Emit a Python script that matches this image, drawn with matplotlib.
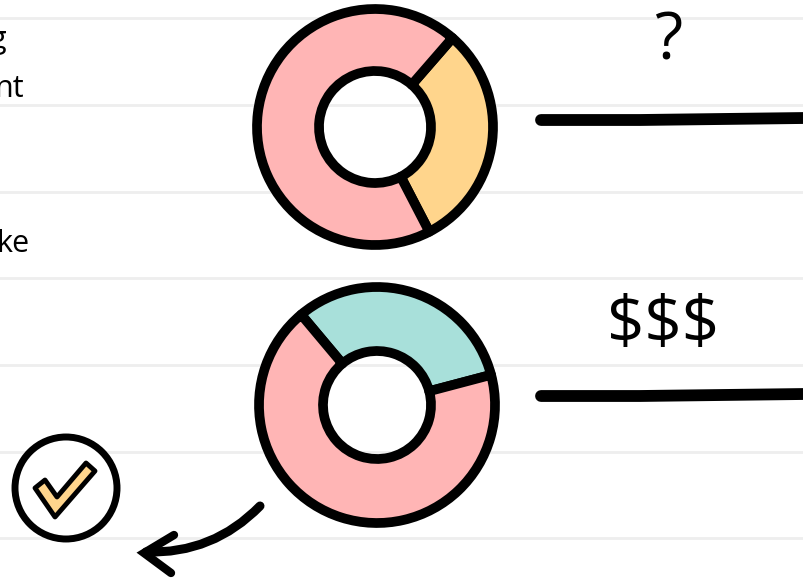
import matplotlib
matplotlib.use("Agg")
import matplotlib.pyplot as plt
from matplotlib.patches import Circle, FancyArrowPatch, Polygon

PINK = "#ffb5b5"
ORANGE = "#ffd58c"
TEAL = "#a8e0da"

# donut shares
top_values = [31, 69]
top_colors = [ORANGE, PINK]
bottom_values = [32, 68]
bottom_colors = [TEAL, PINK]

rule_rows = [18, 105, 192, 278, 365, 452, 538]
left_labels = [("g", 6, 40), ("nt", 24, 89), ("ke", 30, 244)]
right_labels = [("?", 668, 42), ("$$$", 663, 326)]
stroke_rows = [119, 395]

fig = plt.figure(figsize=(8.04, 5.78), dpi=100)
ax = fig.add_axes([0, 0, 1, 1])

for y in rule_rows:
    ax.axhline(y, color="#eeeeee", lw=2, zorder=0)

for text, x, y in left_labels:
    ax.text(x, y, text, ha="right", va="center", fontsize=22, family="Open Sans", color="black")


def donut(values, colors, center, radius, hole, start):
    # y axis is flipped, so the slices run clockwise on screen
    ax.pie(values, colors=colors, center=center, radius=radius, startangle=start,
           counterclock=True, frame=True,
           wedgeprops=dict(width=radius - hole, edgecolor="black", linewidth=7, joinstyle="round"))


donut(top_values, top_colors, (375, 127), 118, 56, -49)
donut(bottom_values, bottom_colors, (377, 405), 118, 54, -130)

ax.set_xlim(0, 804)
ax.set_ylim(578, 0)
ax.set_aspect("equal")
ax.axis("off")

for text, y in zip(right_labels, stroke_rows):
    ax.text(text[1], text[2], text[0], ha="center", va="center", fontsize=47,
            family="Open Sans", color="black")
    ax.plot([541, 640, 804], [y + 1, y + 1, y - 1], color="black", lw=8.5, solid_capstyle="round")

# check badge
ax.add_patch(Circle((66, 488), 51, facecolor="white", edgecolor="black", lw=5))
check = [(35, 488), (45, 480), (57, 497), (86, 463), (95, 471), (55, 517)]
ax.add_patch(Polygon(check, closed=True, facecolor=ORANGE, edgecolor="black", lw=3.5, joinstyle="round"))

# arrow from lower donut, head drawn by hand so the wings sit level
shaft = FancyArrowPatch((260, 506), (146, 552), connectionstyle="arc3,rad=-0.22",
                        arrowstyle="-", color="black", lw=6.5, capstyle="round",
                        shrinkA=0, shrinkB=0)
ax.add_patch(shaft)
ax.plot([174, 144, 171], [535, 553, 573], color="black", lw=6, solid_capstyle="round",
        solid_joinstyle="miter")

fig.savefig("out.png", dpi=100)
